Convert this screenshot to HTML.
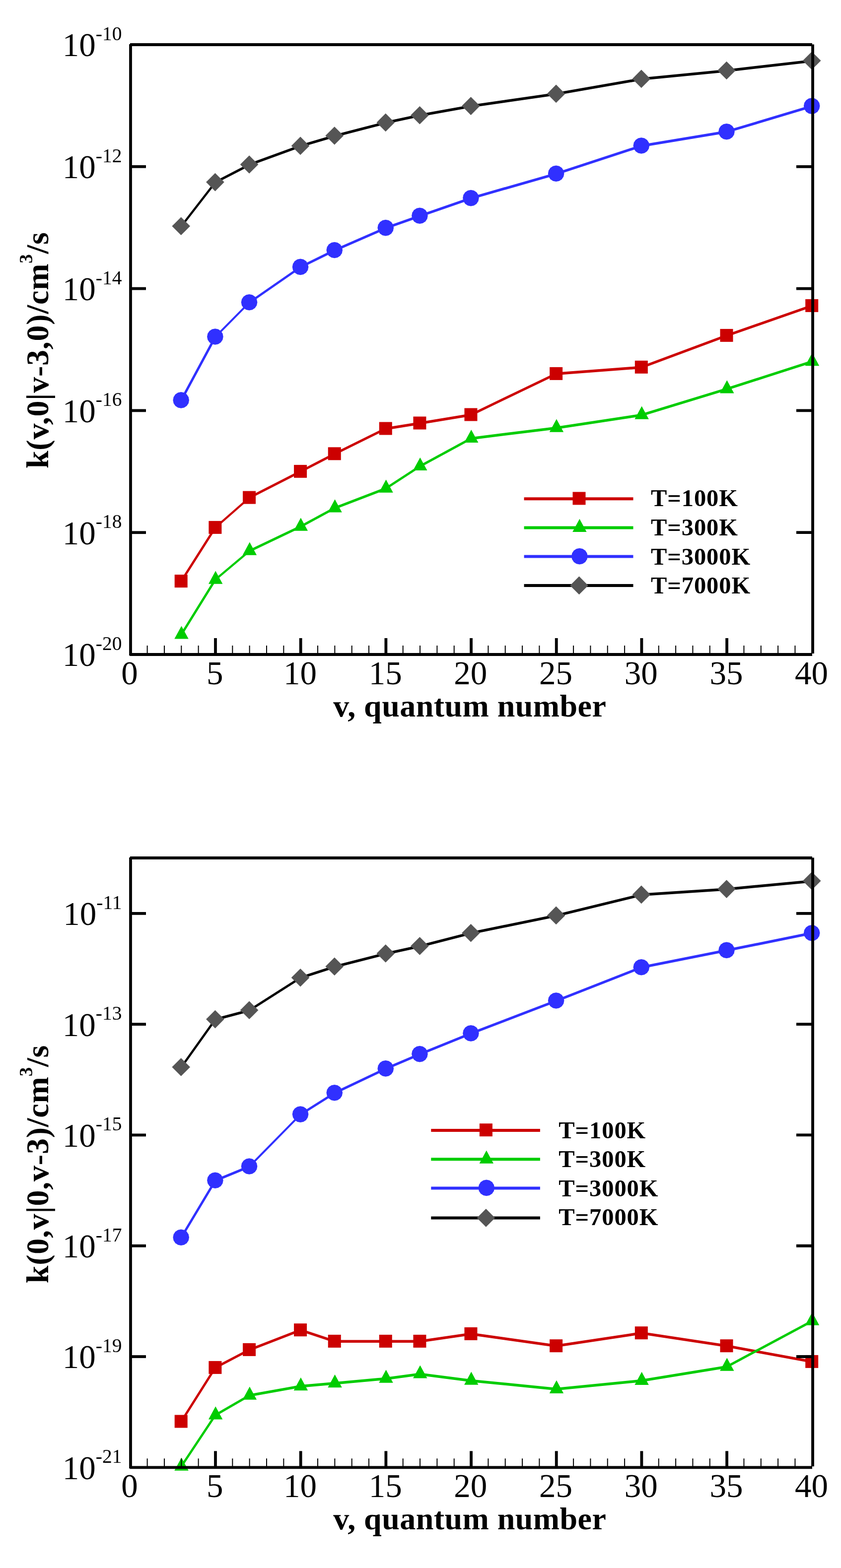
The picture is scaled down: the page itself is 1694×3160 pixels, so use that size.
<!DOCTYPE html>
<html lang="en">
<head>
<meta charset="utf-8">
<title>Rate coefficients vs quantum number</title>
<style>
html,body{margin:0;padding:0;background:#fff;}
body{width:1694px;height:3160px;overflow:hidden;}
svg{display:block;}
text{font-family:"Liberation Serif","DejaVu Serif",serif;fill:#000;}
.tk{font-size:67px;}
.sup{font-size:39.5px;}
.ttl{font-size:64px;font-weight:bold;}
.tsup{font-size:37px;font-weight:bold;}
.lg{font-size:48.5px;font-weight:bold;letter-spacing:0.9px;}
.ttl{letter-spacing:0.45px;}
.yt{letter-spacing:0.78px;}
</style>
</head>
<body>
<svg width="1694" height="3160" viewBox="0 0 1694 3160">
<rect x="0" y="0" width="1694" height="3160" fill="#fff"/>
<g class="plot">
<path d="M362.26 1171.5L430.94 1063.3L436.44 1063.3L367.76 1171.5ZM433.69 1060.55L502.36 1000.25L502.36 1005.75L433.69 1066.05ZM502.36 1000.25L605.37 947.55L605.37 953.05L502.36 1005.75ZM605.37 947.55L674.05 911.95L674.05 917.45L605.37 953.05ZM674.05 911.95L777.06 861.15L777.06 866.65L674.05 917.45ZM777.06 861.15L845.74 850.15L845.74 855.65L777.06 866.65ZM845.74 850.15L948.75 833.15L948.75 838.65L845.74 855.65ZM948.75 833.15L1120.44 750.55L1120.44 756.05L948.75 838.65ZM1120.44 750.55L1292.12 737.45L1292.12 742.95L1120.44 756.05ZM1292.12 737.45L1463.81 673.55L1463.81 679.05L1292.12 742.95ZM1463.81 673.55L1635.5 613.55L1635.5 619.05L1463.81 679.05Z" fill="#cc0000"/>
<rect x="351.71" y="1158.1" width="26" height="26" fill="#cc0000"/>
<rect x="420.39" y="1049.9" width="26" height="26" fill="#cc0000"/>
<rect x="489.06" y="989.6" width="26" height="26" fill="#cc0000"/>
<rect x="592.07" y="936.9" width="26" height="26" fill="#cc0000"/>
<rect x="660.75" y="901.3" width="26" height="26" fill="#cc0000"/>
<rect x="763.76" y="850.5" width="26" height="26" fill="#cc0000"/>
<rect x="832.44" y="839.5" width="26" height="26" fill="#cc0000"/>
<rect x="935.45" y="822.5" width="26" height="26" fill="#cc0000"/>
<rect x="1107.14" y="739.9" width="26" height="26" fill="#cc0000"/>
<rect x="1278.83" y="726.8" width="26" height="26" fill="#cc0000"/>
<rect x="1450.51" y="662.9" width="26" height="26" fill="#cc0000"/>
<rect x="1622.2" y="602.9" width="26" height="26" fill="#cc0000"/>
<path d="M362.26 1279.2L430.94 1168.3L436.44 1168.3L367.76 1279.2ZM433.69 1165.55L502.36 1107.65L502.36 1113.15L433.69 1171.05ZM502.36 1107.65L605.37 1058.55L605.37 1064.05L502.36 1113.15ZM605.37 1058.55L674.05 1021.35L674.05 1026.85L605.37 1064.05ZM674.05 1021.35L777.06 981.65L777.06 987.15L674.05 1026.85ZM777.06 981.65L845.74 936.95L845.74 942.45L777.06 987.15ZM845.74 936.95L948.75 880.95L948.75 886.45L845.74 942.45ZM948.75 880.95L1120.44 859.65L1120.44 865.15L948.75 886.45ZM1120.44 859.65L1292.12 833.65L1292.12 839.15L1120.44 865.15ZM1292.12 833.65L1463.81 781.25L1463.81 786.75L1292.12 839.15ZM1463.81 781.25L1635.5 726.05L1635.5 731.55L1463.81 786.75Z" fill="#00cc00"/>
<polygon points="365.51,1261.4 351.31,1287.6 379.71,1287.6" fill="#00cc00"/>
<polygon points="434.19,1150.5 419.99,1176.7 448.39,1176.7" fill="#00cc00"/>
<polygon points="502.86,1092.6 488.66,1118.8 517.06,1118.8" fill="#00cc00"/>
<polygon points="605.87,1043.5 591.67,1069.7 620.07,1069.7" fill="#00cc00"/>
<polygon points="674.55,1006.3 660.35,1032.5 688.75,1032.5" fill="#00cc00"/>
<polygon points="777.56,966.6 763.36,992.8 791.76,992.8" fill="#00cc00"/>
<polygon points="846.24,921.9 832.04,948.1 860.44,948.1" fill="#00cc00"/>
<polygon points="949.25,865.9 935.05,892.1 963.45,892.1" fill="#00cc00"/>
<polygon points="1120.94,844.6 1106.74,870.8 1135.14,870.8" fill="#00cc00"/>
<polygon points="1292.62,818.6 1278.42,844.8 1306.83,844.8" fill="#00cc00"/>
<polygon points="1464.31,766.2 1450.11,792.4 1478.51,792.4" fill="#00cc00"/>
<polygon points="1636,711 1621.8,737.2 1650.2,737.2" fill="#00cc00"/>
<path d="M362.26 806.8L430.94 678.9L436.44 678.9L367.76 806.8ZM430.94 678.9L499.61 609.6L505.11 609.6L436.44 678.9ZM502.36 606.85L605.37 535.55L605.37 541.05L502.36 612.35ZM605.37 535.55L674.05 501.65L674.05 507.15L605.37 541.05ZM674.05 501.65L777.06 456.75L777.06 462.25L674.05 507.15ZM777.06 456.75L845.74 432.45L845.74 437.95L777.06 462.25ZM845.74 432.45L948.75 396.75L948.75 402.25L845.74 437.95ZM948.75 396.75L1120.44 347.45L1120.44 352.95L948.75 402.25ZM1120.44 347.45L1292.12 291.15L1292.12 296.65L1120.44 352.95ZM1292.12 291.15L1463.81 262.85L1463.81 268.35L1292.12 296.65ZM1463.81 262.85L1635.5 211.25L1635.5 216.75L1463.81 268.35Z" fill="#3030ff"/>
<polygon points="381.01,806.4 379.77,812.64 376.24,817.93 370.95,821.46 364.71,822.7 358.47,821.46 353.19,817.93 349.65,812.64 348.41,806.4 349.65,800.16 353.19,794.87 358.47,791.34 364.71,790.1 370.95,791.34 376.24,794.87 379.77,800.16" fill="#3030ff"/>
<polygon points="449.69,678.5 448.45,684.74 444.91,690.03 439.63,693.56 433.39,694.8 427.15,693.56 421.86,690.03 418.33,684.74 417.09,678.5 418.33,672.26 421.86,666.97 427.15,663.44 433.39,662.2 439.63,663.44 444.91,666.97 448.45,672.26" fill="#3030ff"/>
<polygon points="518.36,609.2 517.12,615.44 513.59,620.73 508.3,624.26 502.06,625.5 495.82,624.26 490.54,620.73 487,615.44 485.76,609.2 487,602.96 490.54,597.67 495.82,594.14 502.06,592.9 508.3,594.14 513.59,597.67 517.12,602.96" fill="#3030ff"/>
<polygon points="621.37,537.9 620.13,544.14 616.6,549.43 611.31,552.96 605.07,554.2 598.84,552.96 593.55,549.43 590.02,544.14 588.77,537.9 590.02,531.66 593.55,526.37 598.84,522.84 605.07,521.6 611.31,522.84 616.6,526.37 620.13,531.66" fill="#3030ff"/>
<polygon points="690.05,504 688.81,510.24 685.28,515.53 679.99,519.06 673.75,520.3 667.51,519.06 662.22,515.53 658.69,510.24 657.45,504 658.69,497.76 662.22,492.47 667.51,488.94 673.75,487.7 679.99,488.94 685.28,492.47 688.81,497.76" fill="#3030ff"/>
<polygon points="793.06,459.1 791.82,465.34 788.29,470.63 783,474.16 776.76,475.4 770.52,474.16 765.24,470.63 761.7,465.34 760.46,459.1 761.7,452.86 765.24,447.57 770.52,444.04 776.76,442.8 783,444.04 788.29,447.57 791.82,452.86" fill="#3030ff"/>
<polygon points="861.74,434.8 860.5,441.04 856.96,446.33 851.68,449.86 845.44,451.1 839.2,449.86 833.91,446.33 830.38,441.04 829.14,434.8 830.38,428.56 833.91,423.27 839.2,419.74 845.44,418.5 851.68,419.74 856.96,423.27 860.5,428.56" fill="#3030ff"/>
<polygon points="964.75,399.1 963.51,405.34 959.98,410.63 954.69,414.16 948.45,415.4 942.21,414.16 936.92,410.63 933.39,405.34 932.15,399.1 933.39,392.86 936.92,387.57 942.21,384.04 948.45,382.8 954.69,384.04 959.98,387.57 963.51,392.86" fill="#3030ff"/>
<polygon points="1136.44,349.8 1135.2,356.04 1131.66,361.33 1126.38,364.86 1120.14,366.1 1113.9,364.86 1108.61,361.33 1105.08,356.04 1103.84,349.8 1105.08,343.56 1108.61,338.27 1113.9,334.74 1120.14,333.5 1126.38,334.74 1131.66,338.27 1135.2,343.56" fill="#3030ff"/>
<polygon points="1308.12,293.5 1306.88,299.74 1303.35,305.03 1298.06,308.56 1291.83,309.8 1285.59,308.56 1280.3,305.03 1276.77,299.74 1275.53,293.5 1276.77,287.26 1280.3,281.97 1285.59,278.44 1291.83,277.2 1298.06,278.44 1303.35,281.97 1306.88,287.26" fill="#3030ff"/>
<polygon points="1479.81,265.2 1478.57,271.44 1475.04,276.73 1469.75,280.26 1463.51,281.5 1457.27,280.26 1451.99,276.73 1448.45,271.44 1447.21,265.2 1448.45,258.96 1451.99,253.67 1457.27,250.14 1463.51,248.9 1469.75,250.14 1475.04,253.67 1478.57,258.96" fill="#3030ff"/>
<polygon points="1651.5,213.6 1650.26,219.84 1646.73,225.13 1641.44,228.66 1635.2,229.9 1628.96,228.66 1623.67,225.13 1620.14,219.84 1618.9,213.6 1620.14,207.36 1623.67,202.07 1628.96,198.54 1635.2,197.3 1641.44,198.54 1646.73,202.07 1650.26,207.36" fill="#3030ff"/>
<path d="M362.26 456.2L430.94 367.5L436.44 367.5L367.76 456.2ZM433.69 364.75L502.36 329.15L502.36 334.65L433.69 370.25ZM502.36 329.15L605.37 291.55L605.37 297.05L502.36 334.65ZM605.37 291.55L674.05 271.15L674.05 276.65L605.37 297.05ZM674.05 271.15L777.06 244.55L777.06 250.05L674.05 276.65ZM777.06 244.55L845.74 229.85L845.74 235.35L777.06 250.05ZM845.74 229.85L948.75 211.25L948.75 216.75L845.74 235.35ZM948.75 211.25L1120.44 186.55L1120.44 192.05L948.75 216.75ZM1120.44 186.55L1292.12 156.55L1292.12 162.05L1120.44 192.05ZM1292.12 156.55L1463.81 139.65L1463.81 145.15L1292.12 162.05ZM1463.81 139.65L1635.5 119.95L1635.5 125.45L1463.81 145.15Z" fill="#000000"/>
<polygon points="364.71,437.5 383.01,455.8 364.71,474.1 346.41,455.8" fill="#555555"/>
<polygon points="433.39,348.8 451.69,367.1 433.39,385.4 415.09,367.1" fill="#555555"/>
<polygon points="502.06,313.2 520.36,331.5 502.06,349.8 483.76,331.5" fill="#555555"/>
<polygon points="605.07,275.6 623.37,293.9 605.07,312.2 586.77,293.9" fill="#555555"/>
<polygon points="673.75,255.2 692.05,273.5 673.75,291.8 655.45,273.5" fill="#555555"/>
<polygon points="776.76,228.6 795.06,246.9 776.76,265.2 758.46,246.9" fill="#555555"/>
<polygon points="845.44,213.9 863.74,232.2 845.44,250.5 827.14,232.2" fill="#555555"/>
<polygon points="948.45,195.3 966.75,213.6 948.45,231.9 930.15,213.6" fill="#555555"/>
<polygon points="1120.14,170.6 1138.44,188.9 1120.14,207.2 1101.84,188.9" fill="#555555"/>
<polygon points="1291.83,140.6 1310.12,158.9 1291.83,177.2 1273.53,158.9" fill="#555555"/>
<polygon points="1463.51,123.7 1481.81,142 1463.51,160.3 1445.21,142" fill="#555555"/>
<polygon points="1635.2,104 1653.5,122.3 1635.2,140.6 1616.9,122.3" fill="#555555"/>
<path d="M262 87.1h1374v5.8h-1374ZM261.5 1316.1h1374.5v5.8h-1374.5ZM260.1 89h5.8v1232h-5.8ZM1634.1 89.5h5.8v1227.5h-5.8Z" fill="#000"/>
<line x1="296.64" y1="1319" x2="296.64" y2="1301" stroke="#000" stroke-width="2"/>
<line x1="330.98" y1="1319" x2="330.98" y2="1301" stroke="#000" stroke-width="2"/>
<line x1="365.31" y1="1319" x2="365.31" y2="1301" stroke="#000" stroke-width="2"/>
<line x1="399.65" y1="1319" x2="399.65" y2="1301" stroke="#000" stroke-width="2"/>
<line x1="433.99" y1="1319" x2="433.99" y2="1286" stroke="#000" stroke-width="5.8"/>
<line x1="468.33" y1="1319" x2="468.33" y2="1301" stroke="#000" stroke-width="2"/>
<line x1="502.66" y1="1319" x2="502.66" y2="1301" stroke="#000" stroke-width="2"/>
<line x1="537" y1="1319" x2="537" y2="1301" stroke="#000" stroke-width="2"/>
<line x1="571.34" y1="1319" x2="571.34" y2="1301" stroke="#000" stroke-width="2"/>
<line x1="605.67" y1="1319" x2="605.67" y2="1286" stroke="#000" stroke-width="5.8"/>
<line x1="640.01" y1="1319" x2="640.01" y2="1301" stroke="#000" stroke-width="2"/>
<line x1="674.35" y1="1319" x2="674.35" y2="1301" stroke="#000" stroke-width="2"/>
<line x1="708.69" y1="1319" x2="708.69" y2="1301" stroke="#000" stroke-width="2"/>
<line x1="743.03" y1="1319" x2="743.03" y2="1301" stroke="#000" stroke-width="2"/>
<line x1="777.36" y1="1319" x2="777.36" y2="1286" stroke="#000" stroke-width="5.8"/>
<line x1="811.7" y1="1319" x2="811.7" y2="1301" stroke="#000" stroke-width="2"/>
<line x1="846.04" y1="1319" x2="846.04" y2="1301" stroke="#000" stroke-width="2"/>
<line x1="880.38" y1="1319" x2="880.38" y2="1301" stroke="#000" stroke-width="2"/>
<line x1="914.71" y1="1319" x2="914.71" y2="1301" stroke="#000" stroke-width="2"/>
<line x1="949.05" y1="1319" x2="949.05" y2="1286" stroke="#000" stroke-width="5.8"/>
<line x1="983.39" y1="1319" x2="983.39" y2="1301" stroke="#000" stroke-width="2"/>
<line x1="1017.72" y1="1319" x2="1017.72" y2="1301" stroke="#000" stroke-width="2"/>
<line x1="1052.06" y1="1319" x2="1052.06" y2="1301" stroke="#000" stroke-width="2"/>
<line x1="1086.4" y1="1319" x2="1086.4" y2="1301" stroke="#000" stroke-width="2"/>
<line x1="1120.74" y1="1319" x2="1120.74" y2="1286" stroke="#000" stroke-width="5.8"/>
<line x1="1155.08" y1="1319" x2="1155.08" y2="1301" stroke="#000" stroke-width="2"/>
<line x1="1189.41" y1="1319" x2="1189.41" y2="1301" stroke="#000" stroke-width="2"/>
<line x1="1223.75" y1="1319" x2="1223.75" y2="1301" stroke="#000" stroke-width="2"/>
<line x1="1258.09" y1="1319" x2="1258.09" y2="1301" stroke="#000" stroke-width="2"/>
<line x1="1292.42" y1="1319" x2="1292.42" y2="1286" stroke="#000" stroke-width="5.8"/>
<line x1="1326.76" y1="1319" x2="1326.76" y2="1301" stroke="#000" stroke-width="2"/>
<line x1="1361.1" y1="1319" x2="1361.1" y2="1301" stroke="#000" stroke-width="2"/>
<line x1="1395.44" y1="1319" x2="1395.44" y2="1301" stroke="#000" stroke-width="2"/>
<line x1="1429.77" y1="1319" x2="1429.77" y2="1301" stroke="#000" stroke-width="2"/>
<line x1="1464.11" y1="1319" x2="1464.11" y2="1286" stroke="#000" stroke-width="5.8"/>
<line x1="1498.45" y1="1319" x2="1498.45" y2="1301" stroke="#000" stroke-width="2"/>
<line x1="1532.79" y1="1319" x2="1532.79" y2="1301" stroke="#000" stroke-width="2"/>
<line x1="1567.12" y1="1319" x2="1567.12" y2="1301" stroke="#000" stroke-width="2"/>
<line x1="1601.46" y1="1319" x2="1601.46" y2="1301" stroke="#000" stroke-width="2"/>
<text class="tk" x="245.5" y="113.4" text-anchor="end">10<tspan class="sup" dy="-32.5">-10</tspan></text>
<line x1="263" y1="335.8" x2="294" y2="335.8" stroke="#000" stroke-width="5.8"/>
<line x1="1637" y1="335.8" x2="1604" y2="335.8" stroke="#000" stroke-width="5.8"/>
<text class="tk" x="245.5" y="359.2" text-anchor="end">10<tspan class="sup" dy="-32.5">-12</tspan></text>
<line x1="263" y1="581.6" x2="294" y2="581.6" stroke="#000" stroke-width="5.8"/>
<line x1="1637" y1="581.6" x2="1604" y2="581.6" stroke="#000" stroke-width="5.8"/>
<text class="tk" x="245.5" y="605" text-anchor="end">10<tspan class="sup" dy="-32.5">-14</tspan></text>
<line x1="263" y1="827.4" x2="294" y2="827.4" stroke="#000" stroke-width="5.8"/>
<line x1="1637" y1="827.4" x2="1604" y2="827.4" stroke="#000" stroke-width="5.8"/>
<text class="tk" x="245.5" y="850.8" text-anchor="end">10<tspan class="sup" dy="-32.5">-16</tspan></text>
<line x1="263" y1="1073.2" x2="294" y2="1073.2" stroke="#000" stroke-width="5.8"/>
<line x1="1637" y1="1073.2" x2="1604" y2="1073.2" stroke="#000" stroke-width="5.8"/>
<text class="tk" x="245.5" y="1096.6" text-anchor="end">10<tspan class="sup" dy="-32.5">-18</tspan></text>
<text class="tk" x="245.5" y="1342.4" text-anchor="end">10<tspan class="sup" dy="-32.5">-20</tspan></text>
<text class="tk" x="261.1" y="1378.6" text-anchor="middle">0</text>
<text class="tk" x="432.79" y="1378.6" text-anchor="middle">5</text>
<text class="tk" x="604.47" y="1378.6" text-anchor="middle">10</text>
<text class="tk" x="776.16" y="1378.6" text-anchor="middle">15</text>
<text class="tk" x="947.85" y="1378.6" text-anchor="middle">20</text>
<text class="tk" x="1119.54" y="1378.6" text-anchor="middle">25</text>
<text class="tk" x="1291.22" y="1378.6" text-anchor="middle">30</text>
<text class="tk" x="1462.91" y="1378.6" text-anchor="middle">35</text>
<text class="tk" x="1634.6" y="1378.6" text-anchor="middle">40</text>
<text class="ttl" x="946.3" y="1443.7" text-anchor="middle">v, quantum number</text>
<text class="ttl yt" transform="translate(96.7 705.6) rotate(-90)" text-anchor="middle">k(v,0|v-3,0)/cm<tspan class="tsup" dy="-32">3</tspan><tspan dy="32">/s</tspan></text>
<line x1="1055.6" y1="1005.2" x2="1275.5" y2="1005.2" stroke="#cc0000" stroke-width="6"/>
<rect x="1153.5" y="991.4" width="26" height="26" fill="#cc0000"/>
<text class="lg" x="1311" y="1019.5">T=100K</text>
<line x1="1055.6" y1="1063.4" x2="1275.5" y2="1063.4" stroke="#00cc00" stroke-width="6"/>
<polygon points="1167.4,1045.7 1153.2,1071.9 1181.6,1071.9" fill="#00cc00"/>
<text class="lg" x="1311" y="1079.3">T=300K</text>
<line x1="1055.6" y1="1121.6" x2="1275.5" y2="1121.6" stroke="#3030ff" stroke-width="6"/>
<polygon points="1183.7,1121.1 1182.46,1127.34 1178.93,1132.63 1173.64,1136.16 1167.4,1137.4 1161.16,1136.16 1155.87,1132.63 1152.34,1127.34 1151.1,1121.1 1152.34,1114.86 1155.87,1109.57 1161.16,1106.04 1167.4,1104.8 1173.64,1106.04 1178.93,1109.57 1182.46,1114.86" fill="#3030ff"/>
<text class="lg" x="1311" y="1137.7">T=3000K</text>
<line x1="1055.6" y1="1179.9" x2="1275.5" y2="1179.9" stroke="#000000" stroke-width="6"/>
<polygon points="1166.5,1161.6 1184.8,1179.9 1166.5,1198.2 1148.2,1179.9" fill="#555555"/>
<text class="lg" x="1311" y="1195.9">T=7000K</text>
</g>
<g class="plot">
<path d="M362.26 2864.9L430.94 2756.3L436.44 2756.3L367.76 2864.9ZM433.69 2753.55L502.36 2717.55L502.36 2723.05L433.69 2759.05ZM502.36 2717.55L605.37 2677.85L605.37 2683.35L502.36 2723.05ZM605.37 2677.85L674.05 2700.55L674.05 2706.05L605.37 2683.35ZM674.05 2700.55L777.06 2700.55L777.06 2706.05L674.05 2706.05ZM777.06 2700.55L845.74 2700.55L845.74 2706.05L777.06 2706.05ZM845.74 2700.55L948.75 2685.55L948.75 2691.05L845.74 2706.05ZM948.75 2685.55L1120.44 2709.85L1120.44 2715.35L948.75 2691.05ZM1120.44 2709.85L1292.12 2683.85L1292.12 2689.35L1120.44 2715.35ZM1292.12 2683.85L1463.81 2709.85L1463.81 2715.35L1292.12 2689.35ZM1463.81 2709.85L1635.5 2741.55L1635.5 2747.05L1463.81 2715.35Z" fill="#cc0000"/>
<rect x="351.71" y="2851.5" width="26" height="26" fill="#cc0000"/>
<rect x="420.39" y="2742.9" width="26" height="26" fill="#cc0000"/>
<rect x="489.06" y="2706.9" width="26" height="26" fill="#cc0000"/>
<rect x="592.07" y="2667.2" width="26" height="26" fill="#cc0000"/>
<rect x="660.75" y="2689.9" width="26" height="26" fill="#cc0000"/>
<rect x="763.76" y="2689.9" width="26" height="26" fill="#cc0000"/>
<rect x="832.44" y="2689.9" width="26" height="26" fill="#cc0000"/>
<rect x="935.45" y="2674.9" width="26" height="26" fill="#cc0000"/>
<rect x="1107.14" y="2699.2" width="26" height="26" fill="#cc0000"/>
<rect x="1278.83" y="2673.2" width="26" height="26" fill="#cc0000"/>
<rect x="1450.51" y="2699.2" width="26" height="26" fill="#cc0000"/>
<rect x="1622.2" y="2730.9" width="26" height="26" fill="#cc0000"/>
<path d="M362.26 2955.4L430.94 2852L436.44 2852L367.76 2955.4ZM433.69 2849.25L502.36 2809.55L502.36 2815.05L433.69 2854.75ZM502.36 2809.55L605.37 2791.05L605.37 2796.55L502.36 2815.05ZM605.37 2791.05L674.05 2785.05L674.05 2790.55L605.37 2796.55ZM674.05 2785.05L777.06 2775.65L777.06 2781.15L674.05 2790.55ZM777.06 2775.65L845.74 2766.45L845.74 2771.95L777.06 2781.15ZM845.74 2766.45L948.75 2779.65L948.75 2785.15L845.74 2771.95ZM948.75 2779.65L1120.44 2796.75L1120.44 2802.25L948.75 2785.15ZM1120.44 2796.75L1292.12 2779.75L1292.12 2785.25L1120.44 2802.25ZM1292.12 2779.75L1463.81 2751.65L1463.81 2757.15L1292.12 2785.25ZM1463.81 2751.65L1635.5 2659.65L1635.5 2665.15L1463.81 2757.15Z" fill="#00cc00"/>
<polygon points="365.51,2937.6 351.31,2963.8 379.71,2963.8" fill="#00cc00"/>
<polygon points="434.19,2834.2 419.99,2860.4 448.39,2860.4" fill="#00cc00"/>
<polygon points="502.86,2794.5 488.66,2820.7 517.06,2820.7" fill="#00cc00"/>
<polygon points="605.87,2776 591.67,2802.2 620.07,2802.2" fill="#00cc00"/>
<polygon points="674.55,2770 660.35,2796.2 688.75,2796.2" fill="#00cc00"/>
<polygon points="777.56,2760.6 763.36,2786.8 791.76,2786.8" fill="#00cc00"/>
<polygon points="846.24,2751.4 832.04,2777.6 860.44,2777.6" fill="#00cc00"/>
<polygon points="949.25,2764.6 935.05,2790.8 963.45,2790.8" fill="#00cc00"/>
<polygon points="1120.94,2781.7 1106.74,2807.9 1135.14,2807.9" fill="#00cc00"/>
<polygon points="1292.62,2764.7 1278.42,2790.9 1306.83,2790.9" fill="#00cc00"/>
<polygon points="1464.31,2736.6 1450.11,2762.8 1478.51,2762.8" fill="#00cc00"/>
<polygon points="1636,2644.6 1621.8,2670.8 1650.2,2670.8" fill="#00cc00"/>
<path d="M362.26 2494.1L430.94 2379.2L436.44 2379.2L367.76 2494.1ZM433.69 2376.45L502.36 2348.15L502.36 2353.65L433.69 2381.95ZM499.61 2350.9L602.62 2246L608.12 2246L505.11 2350.9ZM605.37 2243.25L674.05 2199.95L674.05 2205.45L605.37 2248.75ZM674.05 2199.95L777.06 2151.05L777.06 2156.55L674.05 2205.45ZM777.06 2151.05L845.74 2121.75L845.74 2127.25L777.06 2156.55ZM845.74 2121.75L948.75 2080.05L948.75 2085.55L845.74 2127.25ZM948.75 2080.05L1120.44 2014.15L1120.44 2019.65L948.75 2085.55ZM1120.44 2014.15L1292.12 1946.85L1292.12 1952.35L1120.44 2019.65ZM1292.12 1946.85L1463.81 1912.55L1463.81 1918.05L1292.12 1952.35ZM1463.81 1912.55L1635.5 1877.85L1635.5 1883.35L1463.81 1918.05Z" fill="#3030ff"/>
<polygon points="381.01,2493.7 379.77,2499.94 376.24,2505.23 370.95,2508.76 364.71,2510 358.47,2508.76 353.19,2505.23 349.65,2499.94 348.41,2493.7 349.65,2487.46 353.19,2482.17 358.47,2478.64 364.71,2477.4 370.95,2478.64 376.24,2482.17 379.77,2487.46" fill="#3030ff"/>
<polygon points="449.69,2378.8 448.45,2385.04 444.91,2390.33 439.63,2393.86 433.39,2395.1 427.15,2393.86 421.86,2390.33 418.33,2385.04 417.09,2378.8 418.33,2372.56 421.86,2367.27 427.15,2363.74 433.39,2362.5 439.63,2363.74 444.91,2367.27 448.45,2372.56" fill="#3030ff"/>
<polygon points="518.36,2350.5 517.12,2356.74 513.59,2362.03 508.3,2365.56 502.06,2366.8 495.82,2365.56 490.54,2362.03 487,2356.74 485.76,2350.5 487,2344.26 490.54,2338.97 495.82,2335.44 502.06,2334.2 508.3,2335.44 513.59,2338.97 517.12,2344.26" fill="#3030ff"/>
<polygon points="621.37,2245.6 620.13,2251.84 616.6,2257.13 611.31,2260.66 605.07,2261.9 598.84,2260.66 593.55,2257.13 590.02,2251.84 588.77,2245.6 590.02,2239.36 593.55,2234.07 598.84,2230.54 605.07,2229.3 611.31,2230.54 616.6,2234.07 620.13,2239.36" fill="#3030ff"/>
<polygon points="690.05,2202.3 688.81,2208.54 685.28,2213.83 679.99,2217.36 673.75,2218.6 667.51,2217.36 662.22,2213.83 658.69,2208.54 657.45,2202.3 658.69,2196.06 662.22,2190.77 667.51,2187.24 673.75,2186 679.99,2187.24 685.28,2190.77 688.81,2196.06" fill="#3030ff"/>
<polygon points="793.06,2153.4 791.82,2159.64 788.29,2164.93 783,2168.46 776.76,2169.7 770.52,2168.46 765.24,2164.93 761.7,2159.64 760.46,2153.4 761.7,2147.16 765.24,2141.87 770.52,2138.34 776.76,2137.1 783,2138.34 788.29,2141.87 791.82,2147.16" fill="#3030ff"/>
<polygon points="861.74,2124.1 860.5,2130.34 856.96,2135.63 851.68,2139.16 845.44,2140.4 839.2,2139.16 833.91,2135.63 830.38,2130.34 829.14,2124.1 830.38,2117.86 833.91,2112.57 839.2,2109.04 845.44,2107.8 851.68,2109.04 856.96,2112.57 860.5,2117.86" fill="#3030ff"/>
<polygon points="964.75,2082.4 963.51,2088.64 959.98,2093.93 954.69,2097.46 948.45,2098.7 942.21,2097.46 936.92,2093.93 933.39,2088.64 932.15,2082.4 933.39,2076.16 936.92,2070.87 942.21,2067.34 948.45,2066.1 954.69,2067.34 959.98,2070.87 963.51,2076.16" fill="#3030ff"/>
<polygon points="1136.44,2016.5 1135.2,2022.74 1131.66,2028.03 1126.38,2031.56 1120.14,2032.8 1113.9,2031.56 1108.61,2028.03 1105.08,2022.74 1103.84,2016.5 1105.08,2010.26 1108.61,2004.97 1113.9,2001.44 1120.14,2000.2 1126.38,2001.44 1131.66,2004.97 1135.2,2010.26" fill="#3030ff"/>
<polygon points="1308.12,1949.2 1306.88,1955.44 1303.35,1960.73 1298.06,1964.26 1291.83,1965.5 1285.59,1964.26 1280.3,1960.73 1276.77,1955.44 1275.53,1949.2 1276.77,1942.96 1280.3,1937.67 1285.59,1934.14 1291.83,1932.9 1298.06,1934.14 1303.35,1937.67 1306.88,1942.96" fill="#3030ff"/>
<polygon points="1479.81,1914.9 1478.57,1921.14 1475.04,1926.43 1469.75,1929.96 1463.51,1931.2 1457.27,1929.96 1451.99,1926.43 1448.45,1921.14 1447.21,1914.9 1448.45,1908.66 1451.99,1903.37 1457.27,1899.84 1463.51,1898.6 1469.75,1899.84 1475.04,1903.37 1478.57,1908.66" fill="#3030ff"/>
<polygon points="1651.5,1880.2 1650.26,1886.44 1646.73,1891.73 1641.44,1895.26 1635.2,1896.5 1628.96,1895.26 1623.67,1891.73 1620.14,1886.44 1618.9,1880.2 1620.14,1873.96 1623.67,1868.67 1628.96,1865.14 1635.2,1863.9 1641.44,1865.14 1646.73,1868.67 1650.26,1873.96" fill="#3030ff"/>
<path d="M362.26 2150.9L430.94 2054.5L436.44 2054.5L367.76 2150.9ZM433.69 2051.75L502.36 2033.45L502.36 2038.95L433.69 2057.25ZM502.36 2033.45L605.37 1967.85L605.37 1973.35L502.36 2038.95ZM605.37 1967.85L674.05 1945.45L674.05 1950.95L605.37 1973.35ZM674.05 1945.45L777.06 1919.15L777.06 1924.65L674.05 1950.95ZM777.06 1919.15L845.74 1904.15L845.74 1909.65L777.06 1924.65ZM845.74 1904.15L948.75 1877.85L948.75 1883.35L845.74 1909.65ZM948.75 1877.85L1120.44 1842.55L1120.44 1848.05L948.75 1883.35ZM1120.44 1842.55L1292.12 1800.55L1292.12 1806.05L1120.44 1848.05ZM1292.12 1800.55L1463.81 1789.25L1463.81 1794.75L1292.12 1806.05ZM1463.81 1789.25L1635.5 1772.95L1635.5 1778.45L1463.81 1794.75Z" fill="#000000"/>
<polygon points="364.71,2132.2 383.01,2150.5 364.71,2168.8 346.41,2150.5" fill="#555555"/>
<polygon points="433.39,2035.8 451.69,2054.1 433.39,2072.4 415.09,2054.1" fill="#555555"/>
<polygon points="502.06,2017.5 520.36,2035.8 502.06,2054.1 483.76,2035.8" fill="#555555"/>
<polygon points="605.07,1951.9 623.37,1970.2 605.07,1988.5 586.77,1970.2" fill="#555555"/>
<polygon points="673.75,1929.5 692.05,1947.8 673.75,1966.1 655.45,1947.8" fill="#555555"/>
<polygon points="776.76,1903.2 795.06,1921.5 776.76,1939.8 758.46,1921.5" fill="#555555"/>
<polygon points="845.44,1888.2 863.74,1906.5 845.44,1924.8 827.14,1906.5" fill="#555555"/>
<polygon points="948.45,1861.9 966.75,1880.2 948.45,1898.5 930.15,1880.2" fill="#555555"/>
<polygon points="1120.14,1826.6 1138.44,1844.9 1120.14,1863.2 1101.84,1844.9" fill="#555555"/>
<polygon points="1291.83,1784.6 1310.12,1802.9 1291.83,1821.2 1273.53,1802.9" fill="#555555"/>
<polygon points="1463.51,1773.3 1481.81,1791.6 1463.51,1809.9 1445.21,1791.6" fill="#555555"/>
<polygon points="1635.2,1757 1653.5,1775.3 1635.2,1793.6 1616.9,1775.3" fill="#555555"/>
<path d="M262 1726.1h1374v5.8h-1374ZM261.5 2954.4h1374.5v5.8h-1374.5ZM260.1 1728h5.8v1231.3h-5.8ZM1634.1 1728.5h5.8v1226.8h-5.8Z" fill="#000"/>
<line x1="296.64" y1="2957.3" x2="296.64" y2="2939.3" stroke="#000" stroke-width="2"/>
<line x1="330.98" y1="2957.3" x2="330.98" y2="2939.3" stroke="#000" stroke-width="2"/>
<line x1="365.31" y1="2957.3" x2="365.31" y2="2939.3" stroke="#000" stroke-width="2"/>
<line x1="399.65" y1="2957.3" x2="399.65" y2="2939.3" stroke="#000" stroke-width="2"/>
<line x1="433.99" y1="2957.3" x2="433.99" y2="2924.3" stroke="#000" stroke-width="5.8"/>
<line x1="468.33" y1="2957.3" x2="468.33" y2="2939.3" stroke="#000" stroke-width="2"/>
<line x1="502.66" y1="2957.3" x2="502.66" y2="2939.3" stroke="#000" stroke-width="2"/>
<line x1="537" y1="2957.3" x2="537" y2="2939.3" stroke="#000" stroke-width="2"/>
<line x1="571.34" y1="2957.3" x2="571.34" y2="2939.3" stroke="#000" stroke-width="2"/>
<line x1="605.67" y1="2957.3" x2="605.67" y2="2924.3" stroke="#000" stroke-width="5.8"/>
<line x1="640.01" y1="2957.3" x2="640.01" y2="2939.3" stroke="#000" stroke-width="2"/>
<line x1="674.35" y1="2957.3" x2="674.35" y2="2939.3" stroke="#000" stroke-width="2"/>
<line x1="708.69" y1="2957.3" x2="708.69" y2="2939.3" stroke="#000" stroke-width="2"/>
<line x1="743.03" y1="2957.3" x2="743.03" y2="2939.3" stroke="#000" stroke-width="2"/>
<line x1="777.36" y1="2957.3" x2="777.36" y2="2924.3" stroke="#000" stroke-width="5.8"/>
<line x1="811.7" y1="2957.3" x2="811.7" y2="2939.3" stroke="#000" stroke-width="2"/>
<line x1="846.04" y1="2957.3" x2="846.04" y2="2939.3" stroke="#000" stroke-width="2"/>
<line x1="880.38" y1="2957.3" x2="880.38" y2="2939.3" stroke="#000" stroke-width="2"/>
<line x1="914.71" y1="2957.3" x2="914.71" y2="2939.3" stroke="#000" stroke-width="2"/>
<line x1="949.05" y1="2957.3" x2="949.05" y2="2924.3" stroke="#000" stroke-width="5.8"/>
<line x1="983.39" y1="2957.3" x2="983.39" y2="2939.3" stroke="#000" stroke-width="2"/>
<line x1="1017.72" y1="2957.3" x2="1017.72" y2="2939.3" stroke="#000" stroke-width="2"/>
<line x1="1052.06" y1="2957.3" x2="1052.06" y2="2939.3" stroke="#000" stroke-width="2"/>
<line x1="1086.4" y1="2957.3" x2="1086.4" y2="2939.3" stroke="#000" stroke-width="2"/>
<line x1="1120.74" y1="2957.3" x2="1120.74" y2="2924.3" stroke="#000" stroke-width="5.8"/>
<line x1="1155.08" y1="2957.3" x2="1155.08" y2="2939.3" stroke="#000" stroke-width="2"/>
<line x1="1189.41" y1="2957.3" x2="1189.41" y2="2939.3" stroke="#000" stroke-width="2"/>
<line x1="1223.75" y1="2957.3" x2="1223.75" y2="2939.3" stroke="#000" stroke-width="2"/>
<line x1="1258.09" y1="2957.3" x2="1258.09" y2="2939.3" stroke="#000" stroke-width="2"/>
<line x1="1292.42" y1="2957.3" x2="1292.42" y2="2924.3" stroke="#000" stroke-width="5.8"/>
<line x1="1326.76" y1="2957.3" x2="1326.76" y2="2939.3" stroke="#000" stroke-width="2"/>
<line x1="1361.1" y1="2957.3" x2="1361.1" y2="2939.3" stroke="#000" stroke-width="2"/>
<line x1="1395.44" y1="2957.3" x2="1395.44" y2="2939.3" stroke="#000" stroke-width="2"/>
<line x1="1429.77" y1="2957.3" x2="1429.77" y2="2939.3" stroke="#000" stroke-width="2"/>
<line x1="1464.11" y1="2957.3" x2="1464.11" y2="2924.3" stroke="#000" stroke-width="5.8"/>
<line x1="1498.45" y1="2957.3" x2="1498.45" y2="2939.3" stroke="#000" stroke-width="2"/>
<line x1="1532.79" y1="2957.3" x2="1532.79" y2="2939.3" stroke="#000" stroke-width="2"/>
<line x1="1567.12" y1="2957.3" x2="1567.12" y2="2939.3" stroke="#000" stroke-width="2"/>
<line x1="1601.46" y1="2957.3" x2="1601.46" y2="2939.3" stroke="#000" stroke-width="2"/>
<line x1="263" y1="1840.9" x2="294" y2="1840.9" stroke="#000" stroke-width="5.8"/>
<line x1="1637" y1="1840.9" x2="1604" y2="1840.9" stroke="#000" stroke-width="5.8"/>
<text class="tk" x="245.5" y="1864.3" text-anchor="end">10<tspan class="sup" dy="-32.5">-11</tspan></text>
<line x1="263" y1="2064.18" x2="294" y2="2064.18" stroke="#000" stroke-width="5.8"/>
<line x1="1637" y1="2064.18" x2="1604" y2="2064.18" stroke="#000" stroke-width="5.8"/>
<text class="tk" x="245.5" y="2087.58" text-anchor="end">10<tspan class="sup" dy="-32.5">-13</tspan></text>
<line x1="263" y1="2287.46" x2="294" y2="2287.46" stroke="#000" stroke-width="5.8"/>
<line x1="1637" y1="2287.46" x2="1604" y2="2287.46" stroke="#000" stroke-width="5.8"/>
<text class="tk" x="245.5" y="2310.86" text-anchor="end">10<tspan class="sup" dy="-32.5">-15</tspan></text>
<line x1="263" y1="2510.74" x2="294" y2="2510.74" stroke="#000" stroke-width="5.8"/>
<line x1="1637" y1="2510.74" x2="1604" y2="2510.74" stroke="#000" stroke-width="5.8"/>
<text class="tk" x="245.5" y="2534.14" text-anchor="end">10<tspan class="sup" dy="-32.5">-17</tspan></text>
<line x1="263" y1="2734.02" x2="294" y2="2734.02" stroke="#000" stroke-width="5.8"/>
<line x1="1637" y1="2734.02" x2="1604" y2="2734.02" stroke="#000" stroke-width="5.8"/>
<text class="tk" x="245.5" y="2757.42" text-anchor="end">10<tspan class="sup" dy="-32.5">-19</tspan></text>
<text class="tk" x="245.5" y="2980.7" text-anchor="end">10<tspan class="sup" dy="-32.5">-21</tspan></text>
<text class="tk" x="261.1" y="3016.9" text-anchor="middle">0</text>
<text class="tk" x="432.79" y="3016.9" text-anchor="middle">5</text>
<text class="tk" x="604.47" y="3016.9" text-anchor="middle">10</text>
<text class="tk" x="776.16" y="3016.9" text-anchor="middle">15</text>
<text class="tk" x="947.85" y="3016.9" text-anchor="middle">20</text>
<text class="tk" x="1119.54" y="3016.9" text-anchor="middle">25</text>
<text class="tk" x="1291.22" y="3016.9" text-anchor="middle">30</text>
<text class="tk" x="1462.91" y="3016.9" text-anchor="middle">35</text>
<text class="tk" x="1634.6" y="3016.9" text-anchor="middle">40</text>
<text class="ttl" x="946.3" y="3082" text-anchor="middle">v, quantum number</text>
<text class="ttl yt" transform="translate(96.7 2346) rotate(-90)" text-anchor="middle">k(0,v|0,v-3)/cm<tspan class="tsup" dy="-32">3</tspan><tspan dy="32">/s</tspan></text>
<line x1="868.3" y1="2278" x2="1087.9" y2="2278" stroke="#cc0000" stroke-width="6"/>
<rect x="965.9" y="2264.2" width="26" height="26" fill="#cc0000"/>
<text class="lg" x="1125.3" y="2294.3">T=100K</text>
<line x1="868.3" y1="2336.2" x2="1087.9" y2="2336.2" stroke="#00cc00" stroke-width="6"/>
<polygon points="979.8,2318.5 965.6,2344.7 994,2344.7" fill="#00cc00"/>
<text class="lg" x="1125.3" y="2352.3">T=300K</text>
<line x1="868.3" y1="2394.4" x2="1087.9" y2="2394.4" stroke="#3030ff" stroke-width="6"/>
<polygon points="996.1,2393.9 994.86,2400.14 991.33,2405.43 986.04,2408.96 979.8,2410.2 973.56,2408.96 968.27,2405.43 964.74,2400.14 963.5,2393.9 964.74,2387.66 968.27,2382.37 973.56,2378.84 979.8,2377.6 986.04,2378.84 991.33,2382.37 994.86,2387.66" fill="#3030ff"/>
<text class="lg" x="1125.3" y="2410.5">T=3000K</text>
<line x1="868.3" y1="2454.4" x2="1087.9" y2="2454.4" stroke="#000000" stroke-width="6"/>
<polygon points="978.9,2436.1 997.2,2454.4 978.9,2472.7 960.6,2454.4" fill="#555555"/>
<text class="lg" x="1125.3" y="2469.2">T=7000K</text>
</g>
</svg>
</body>
</html>
